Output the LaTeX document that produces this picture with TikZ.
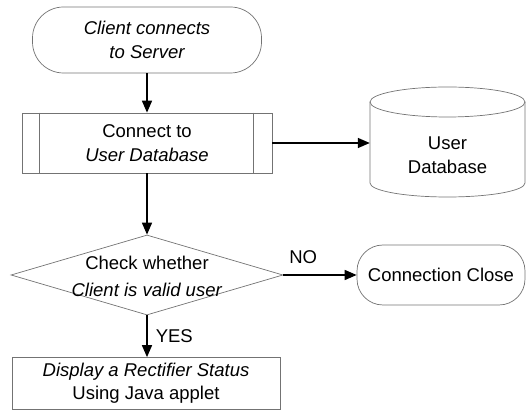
\documentclass[tikz,border=0pt]{standalone}
\usepackage{fontspec}
\setmainfont{Liberation Sans}
\usetikzlibrary{arrows.meta,shapes.geometric}
\begin{document}
\begin{tikzpicture}[x=1pt,y=-1pt,
  outline/.style={draw=black!55, line width=0.7pt},
  txt/.style={font=\fontsize{18.5}{24}\selectfont, align=center, inner sep=0pt},
  flow/.style={draw=black, line width=1.5pt, -{Triangle[length=12pt,width=10pt]}},
  lbl/.style={font=\fontsize{18.5}{22}\selectfont, inner sep=0pt}]
\useasboundingbox (0,0) rectangle (528,411);

% start terminator
\node[outline, txt, rounded corners=31pt, minimum width=229pt, minimum height=66pt]
  (start) at (147,40) {\itshape Client connects\\\itshape to Server};

% predefined process: connect to the user database
\node[outline, txt, minimum width=250pt, minimum height=60pt]
  (conn) at (147,143) {Connect to\\\textit{User Database}};
\draw[outline] ([xshift=18pt]conn.north west) -- ([xshift=18pt]conn.south west);
\draw[outline] ([xshift=-19pt]conn.north east) -- ([xshift=-19pt]conn.south east);

% user database drum
\node[minimum width=155pt, minimum height=110pt, inner sep=0pt] (db) at (447.5,142) {};
\draw[outline] (370,102) -- (370,183)
  arc[start angle=180, end angle=360, x radius=77.5pt, y radius=14pt]
  -- (525,102)
  arc[start angle=0, end angle=180, x radius=77.5pt, y radius=15pt];
\draw[outline] (370,102) arc[start angle=180, end angle=360, x radius=77.5pt, y radius=15pt];
\node[txt] (dbtxt) at (447.5,155) {User\\Database};

% decision
\node[outline, diamond, minimum width=272pt, minimum height=80pt, inner sep=0pt]
  (chk) at (147,275) {};
\node[txt, font=\fontsize{18.5}{27}\selectfont] (chktxt) at (147,276)
  {Check whether\\\textit{Client is valid user}};

% end terminator
\node[outline, txt, rounded corners=26pt, minimum width=168pt, minimum height=60pt]
  (close) at (441,275) {Connection Close};

% display step
\node[outline, txt, font=\fontsize{18.5}{23}\selectfont, minimum width=268pt, minimum height=52pt]
  (disp) at (146,383.5) {\textit{Display a Rectifier Status}\\Using Java applet};

% connectors
\draw[flow] (start.south) -- (conn.north);
\draw[flow] (conn.east) -- (conn.east -| db.west);
\draw[flow] (conn.south) -- (chk.north);
\draw[flow] (chk.east) -- node[lbl, pos=0.27, anchor=south, yshift=11pt] (no) {NO} (close.west);
\draw[flow] (chk.south) -- node[lbl, anchor=west, xshift=8pt] (yes) {YES} (chk.south |- disp.north);
\end{tikzpicture}
\end{document}
